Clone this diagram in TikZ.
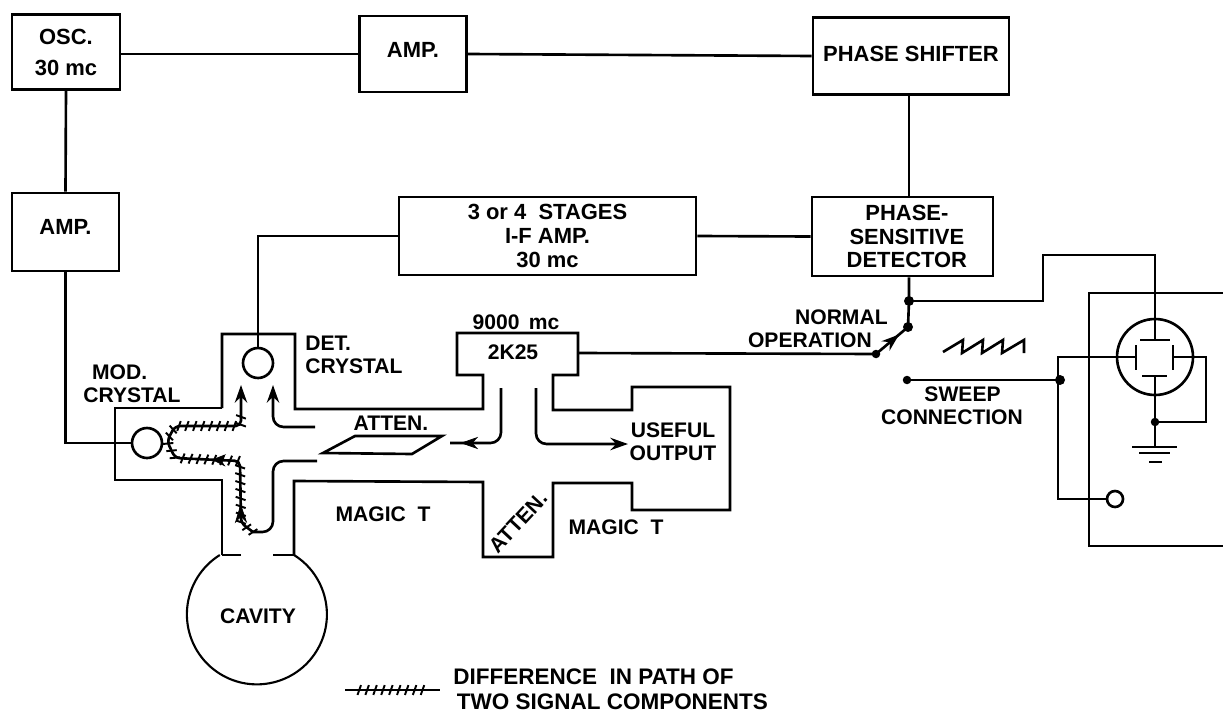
\documentclass[tikz,border=0pt]{standalone}
\usepackage{fontspec}
\setmainfont{Liberation Sans}
\usetikzlibrary{arrows.meta, decorations.markings}
\tikzset{
    radarWire/.style={
        draw=black, line width=1.5pt
    },
    radarBlock/.style={
        draw=black, fill=white, line width=1.5pt, align=center, inner sep=0pt, font=\fontsize{12.5}{13.6}\selectfont\bfseries
    },
    radarLabel/.style={
        align=center, inner sep=0pt, font=\fontsize{12}{13}\selectfont\bfseries
    },
    radarDot/.style={
        circle, fill=black, inner sep=0pt, minimum size=2mm
    },
    radarSmallDot/.style={
        circle, fill=black, inner sep=0pt, minimum size=1.7mm
    },
    radarCrystal/.style={
        circle, draw=black, fill=white, line width=1.5pt, inner sep=0pt, minimum size=6mm
    },
    radarArrow/.style={
        radarWire, -{Stealth[length=10pt, width=7pt]}, rounded corners=6pt
    },
    radarMidArrow/.style={
        postaction={decorate},
        decoration={markings, mark=at position #1 with {\arrow{Stealth[length=10pt, width=7pt]}}}
    },
    radarHatch/.style 2 args={
        postaction={decorate},
        decoration={markings, mark=between positions #1 and #2 step 4.5pt with {\draw[line width=1.1pt] (-1pt,-2.8pt) -- (1pt,2.8pt);}}
    },
    radarHatchHeads/.style={
        postaction={decorate},
        decoration={markings,
            mark=at position 0.12 with {\arrow{Stealth[length=11pt, width=7pt]}},
            mark=at position 0.37 with {\arrow{Stealth[length=8pt, width=7pt]}}}
    }
}
\begin{document}
\begin{tikzpicture}[x=0.02cm, y=-0.02cm]
    \useasboundingbox (0,0) rectangle (1223,713);

    % ── TOP AND MIDDLE BLOCKS
    \node[radarBlock, minimum width=2.16cm, minimum height=1.5cm] (osc) at (66,52) {OSC.\\[4pt]30 mc};
    \node[radarBlock, minimum width=2.14cm, minimum height=1.52cm, text depth=5pt] (ampTop) at (413,54) {AMP.};
    \node[radarBlock, minimum width=2.14cm, minimum height=1.56cm, text depth=6pt] (ampLeft) at (65.5,232) {AMP.};
    \node[radarBlock, minimum width=3.92cm, minimum height=1.54cm, text depth=2pt] (phaseShifter) at (911,56) {PHASE SHIFTER};
    \node[radarBlock, minimum width=5.94cm, minimum height=1.56cm] (ifAmp) at (547.5,236) {3 or 4 \ STAGES\\I-F AMP.\\30 mc};
    \node[radarBlock, minimum width=3.62cm, minimum height=1.58cm] (detector) at (902.5,236.5) {\hspace*{5pt}PHASE-\\\hspace*{5pt}SENSITIVE\\\hspace*{5pt}DETECTOR};

    % ── WAVEGUIDE OUTLINE
    \draw[radarWire] (222,408) -- (222,334) -- (295,334) -- (295,409) -- (483,409) -- (483,375) -- (457,375) -- (457,333) -- (578,333) -- (578,375) -- (553,375) -- (553,410) -- (632,410) -- (632,387) -- (730,387) -- (730,510) -- (632,510) -- (632,483) -- (553,483) -- (553,557) -- (483,557) -- (483,482) -- (294,481) -- (294,555);
    \draw[radarWire] (222,408) -- (115,408) -- (115,480) -- (222,480) -- (222,555);
    \draw[radarWire] (241,555) -- (222,555);
    \draw[radarWire] (273,555) -- (294,555);
    \draw[radarWire, line width=1.2pt] (294,555) arc[start angle=-58, end angle=238, radius=70];
    \draw[radarWire] (323,453) -- (355,436) -- (442,436) -- (412,454) -- cycle;

    % ── CRYSTALS AND WAVEGUIDE LABELS
    \node[radarCrystal] (modCrystal) at (147,443) {};
    \node[radarCrystal] (detCrystal) at (258,363) {};
    \node[radarLabel, anchor=west, align=left] (lblMod) at (83,384) {\hspace*{5pt}MOD.\\CRYSTAL};
    \node[radarLabel, anchor=west, align=left] (lblDet) at (305,355) {DET.\\CRYSTAL};
    \node[radarLabel] (lblAttenA) at (391,423) {ATTEN.};
    \node[radarLabel, rotate=47] (lblAttenB) at (518,522) {ATTEN.};
    \node[radarLabel] (lblMagicA) at (383,514) {MAGIC \ T};
    \node[radarLabel] (lblMagicB) at (616,527) {MAGIC \ T};
    \node[radarLabel] (lblFreq) at (516,322) {9000 \,mc};
    \node[radarLabel] (tube) at (513,352) {2K25};
    \node[radarLabel] (lblUseful) at (673,442) {USEFUL\\OUTPUT};
    \node[radarLabel] (cavity) at (258,616) {CAVITY};

    % ── SIGNAL PATHS
    \draw[radarArrow] (315,427) -- (273,427) -- (273,385);
    \draw[radarWire, rounded corners=6pt] (317,461) -- (273,461) -- (273,532) -- (253,532);
    \draw[radarArrow, rounded corners=3pt] (253,532) -- (241,523) -- (240,461) -- (175,458) -- (167,441) -- (175,426) -- (241,426) -- (241,385);
    \path[radarHatch={0}{0.9}] (253,532) -- (241,523) -- (240,461) -- (175,458) -- (167,441) -- (175,426) -- (241,426) -- (241,385);
    \path[radarHatchHeads] (253,532) -- (241,523) -- (240,461) -- (175,458) -- (167,441) -- (175,426) -- (241,426) -- (241,385);
    \path[radarMidArrow=0.9] (501,388) -- (501,443) -- (450,443);
    \draw[radarWire, rounded corners=6pt] (501,388) -- (501,443) -- (450,443);
    \draw[radarArrow] (536,388) -- (536,444) -- (628,444);

    % ── SWITCH AND SWEEP
    \node[radarDot] (dotTop) at (909,301) {};
    \node[radarDot] (swPivot) at (908,327) {};
    \node[radarSmallDot] (swContact) at (876,354) {};
    \node[radarSmallDot] (swSweep) at (907,380) {};
    \coordinate (tubePort) at (578,353);
    \node[radarLabel, anchor=east, align=right] (lblNormal) at (888,328.5) {NORMAL\\OPERATION\hspace*{9pt}};
    \node[radarLabel] (lblSweep) at (952,406) {\hspace*{12pt}SWEEP\\CONNECTION};
    \draw[radarWire] (943,352) -- (963,340) -- (962,353) -- (983,340) -- (982,353) -- (1003,340) -- (1002,353) -- (1024,340) -- (1024,353);

    % ── SCOPE
    \node[circle, draw=black, line width=1.5pt, inner sep=0pt, minimum size=1.52cm] (crt) at (1155,357) {};
    \node[radarSmallDot] (dotGround) at (1155,422) {};
    \node[radarDot] (dotSweep) at (1060,380) {};
    \node[radarCrystal, minimum size=3.2mm] (scopeJack) at (1115,499) {};
    \coordinate (groundTop) at (1155,447);
    \coordinate (plateTop) at (1155,340);
    \coordinate (plateBottom) at (1155,376);
    \coordinate (plateLeft) at (1136,357);
    \coordinate (plateRight) at (1173,357);
    \coordinate (feedCorner) at (1043,255);
    \coordinate (feedTop) at (1155,255);
    \coordinate (sweepLeft) at (1058,357);
    \coordinate (sweepLow) at (1058,499);
    \coordinate (returnRight) at (1206,357);
    \draw[radarWire] (1223,293) -- (1089,293) -- (1089,546) -- (1223,546);
    \draw[radarWire] (1140,340) -- (1170,340);
    \draw[radarWire] (1142,376) -- (1167,376);
    \draw[radarWire] (1136,345) -- (1136,370);
    \draw[radarWire] (1173,345) -- (1173,370);
    \draw[radarWire] (1132,447) -- (1177,447);
    \draw[radarWire] (1139,453) -- (1170,453);
    \draw[radarWire] (1149,462) -- (1162,462);

    % ── CONNECTORS
    \draw[radarWire] (osc.east |- ampTop.west) -- (ampTop.west);
    \draw[radarWire] (ampTop.east) -- (phaseShifter.west);
    \draw[radarWire] (osc.south) -- (ampLeft.north);
    \draw[radarWire] (ampLeft.south) |- (modCrystal.west);
    \draw[radarWire] (ifAmp.west) -| (detCrystal.north);
    \draw[radarWire] (ifAmp.east) -- (detector.west);
    \draw[radarWire] (dotTop |- phaseShifter.south) -- (dotTop |- detector.north);
    \draw[radarWire] (dotTop |- detector.south) -- (dotTop.center) -- (swPivot.center);
    \draw[radarWire] (tubePort) -- (swContact.center);
    \draw[radarWire, radarMidArrow=0.72] (swContact.center) -- (swPivot.center);
    \draw[radarWire] (dotTop.center) -| (feedCorner) -- (feedTop) -- (plateTop);
    \draw[radarWire] (swSweep.center) -- (dotSweep.center);
    \draw[radarWire] (plateLeft) -- (sweepLeft) -- (sweepLow) -- (scopeJack.west);
    \draw[radarWire] (plateRight) -- (returnRight) |- (dotGround.center);
    \draw[radarWire] (plateBottom) -- (dotGround.center) -- (groundTop);

    % ── LEGEND
    \coordinate (legendLeft) at (345,690);
    \coordinate (legendRight) at (440,690);
    \draw[radarWire, radarHatch={0.15}{0.85}] (legendLeft) -- (legendRight);
    \node[radarLabel, anchor=west, align=left, font=\fontsize{12.8}{14}\selectfont\bfseries] (lblLegend) at (453,689.5) {DIFFERENCE \ IN PATH OF\\\hspace*{2pt}TWO SIGNAL COMPONENTS};
\end{tikzpicture}
\end{document}
